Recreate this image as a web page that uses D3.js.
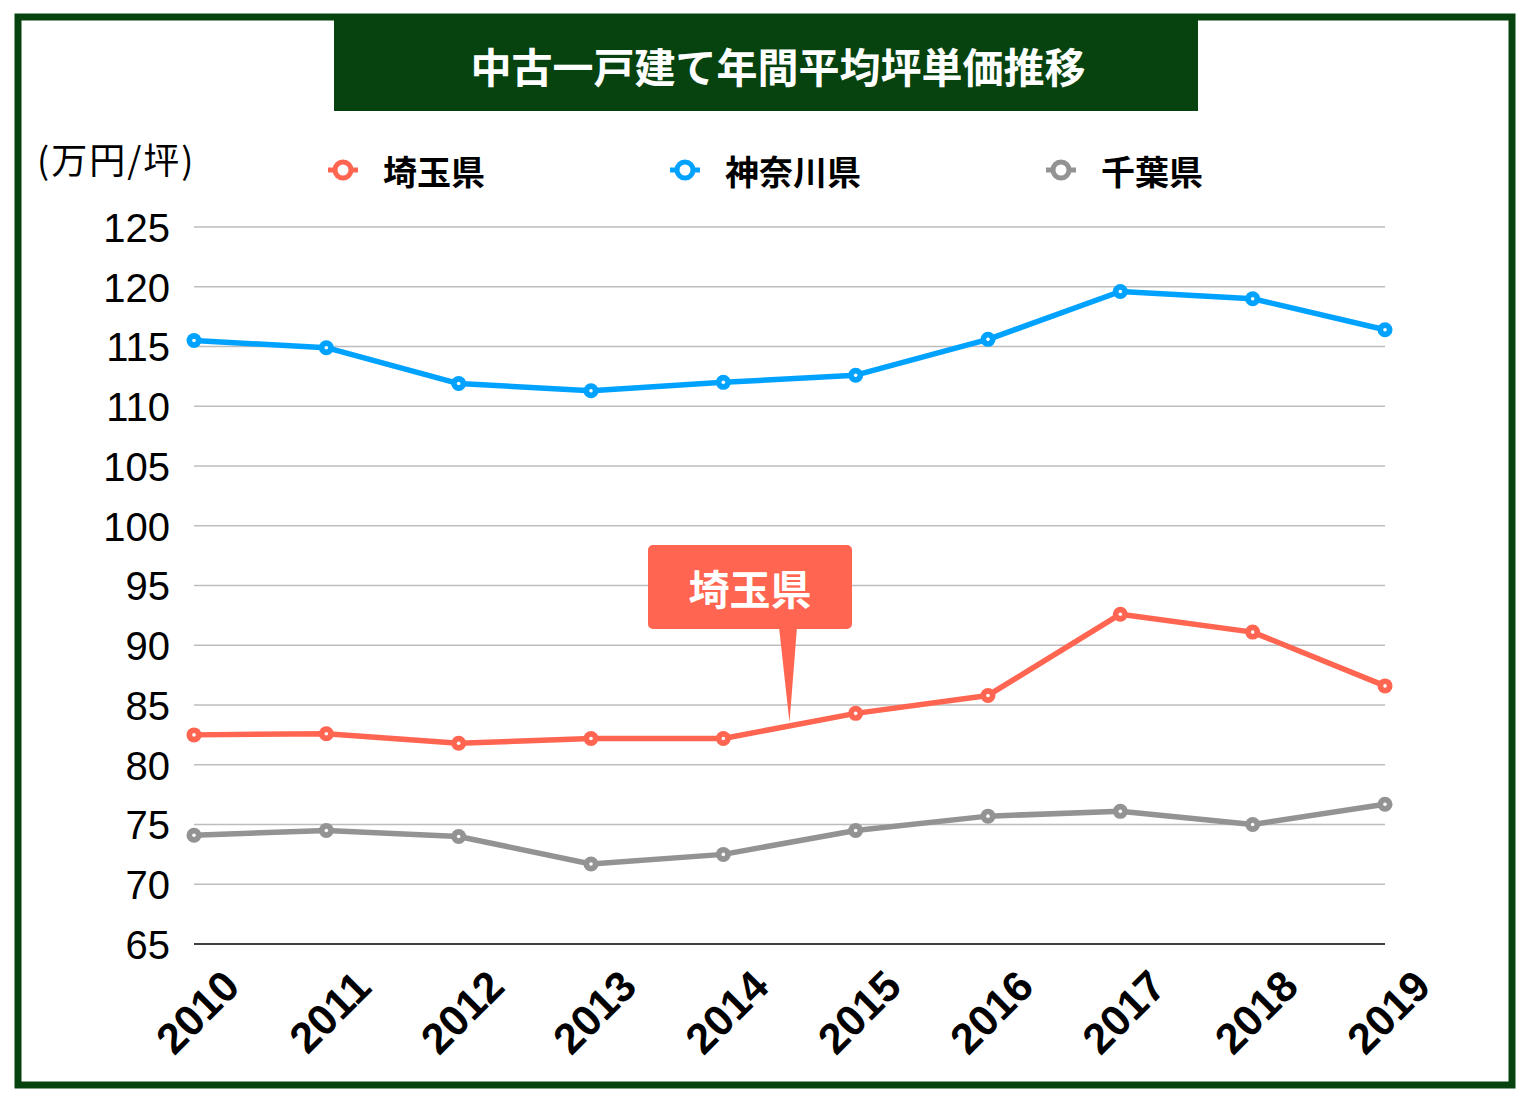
<!DOCTYPE html>
<html><head><meta charset="utf-8">
<script src="https://cdn.jsdelivr.net/npm/d3@7"></script>
<style>body{margin:0;background:#fff;}svg{display:block;}</style>
</head><body>
<script>
const years = ["2010","2011","2012","2013","2014","2015","2016","2017","2018","2019"];
const saitama = [82.5,82.6,81.8,82.2,82.2,84.3,85.8,92.6,91.1,86.6];
const kanagawa = [115.5,114.9,111.9,111.3,112.0,112.6,115.6,119.6,119.0,116.4];
const chiba = [74.1,74.5,74.0,71.7,72.5,74.5,75.7,76.1,75.0,76.7];
const seriesNames = ["埼玉県","神奈川県","千葉県"];
const yTicks = [65,70,75,80,85,90,95,100,105,110,115,120,125];
const title = "中古一戸建て年間平均坪単価推移";
const unitLabel = "(万円/坪)";
const calloutLabel = "埼玉県";

const W=1531,H=1098;
const colors=["#ff6550","#00a2ff","#939393"];
const green="#07430f";
const jp="'Noto Sans CJK JP','Noto Sans',sans-serif";
const num="'Liberation Sans',Arial,sans-serif";

const svg=d3.select("body").append("svg").attr("width",W).attr("height",H);
svg.append("rect").attr("width",W).attr("height",H).attr("fill","#fff");
// border
svg.append("rect").attr("x",18).attr("y",17).attr("width",1494).attr("height",1068)
  .attr("fill","none").attr("stroke",green).attr("stroke-width",7);
// title box
svg.append("rect").attr("x",334).attr("y",20).attr("width",864).attr("height",91).attr("fill",green);
svg.append("text").attr("x",778).attr("y",65).attr("text-anchor","middle").attr("dominant-baseline","central")
  .attr("font-family",jp).attr("font-weight","bold").attr("font-size",41).attr("fill","#fff").text(title);

const x=d3.scalePoint().domain(years).range([194,1385]);
const y=d3.scaleLinear().domain([65,125]).range([944,227]);

// grid
const g=svg.append("g");
g.selectAll("line.grid").data(yTicks.filter(t=>t>65)).join("line")
  .attr("x1",194).attr("x2",1385).attr("y1",d=>y(d)).attr("y2",d=>y(d))
  .attr("stroke","#bdbdbd").attr("stroke-width",1.3);
g.append("line").attr("x1",194).attr("x2",1385).attr("y1",y(65)).attr("y2",y(65)).attr("stroke","#000").attr("stroke-width",1.3);

// y axis labels
const yAxis=d3.axisLeft(y).tickValues(yTicks).tickSize(0).tickPadding(0);
const ya=svg.append("g").attr("transform","translate(170,0)").call(yAxis);
ya.select(".domain").remove();
ya.selectAll("text").attr("font-family",num).attr("font-size",40).attr("fill","#000").attr("dy","0.36em");

// x axis labels
const xAxis=d3.axisBottom(x).tickSize(0).tickPadding(0);
const xa=svg.append("g").attr("transform","translate(0,944)").call(xAxis);
xa.select(".domain").remove();
xa.selectAll("text").attr("font-family",num).attr("font-size",43).attr("font-weight","bold").attr("fill","#000")
  .attr("text-anchor","middle").attr("dy",null).attr("y",0)
  .attr("transform","translate(3,68) rotate(-45)").attr("dominant-baseline","central");

// unit label
svg.append("text").attr("x",37).attr("y",158).attr("dominant-baseline","central")
  .attr("font-family",jp).attr("font-size",36).attr("letter-spacing",2).attr("fill","#000").text(unitLabel);

// lines
const data=[saitama,kanagawa,chiba];
const line=d3.line().x((d,i)=>x(years[i])).y(d=>y(d));
data.forEach((s,k)=>{
  svg.append("path").datum(s).attr("d",line).attr("fill","none").attr("stroke",colors[k])
    .attr("stroke-width",5.5).attr("stroke-linejoin","round");
  svg.selectAll(null).data(s).join("circle").attr("cx",(d,i)=>x(years[i])).attr("cy",d=>y(d))
    .attr("r",7.5).attr("fill",colors[k]);
  svg.selectAll(null).data(s).join("circle").attr("cx",(d,i)=>x(years[i])).attr("cy",d=>y(d))
    .attr("r",1.8).attr("fill","#fff");
});

// legend
const legX=[343,685,1061];
seriesNames.forEach((n,k)=>{
  const lg=svg.append("g").attr("transform",`translate(${legX[k]},170)`);
  lg.append("line").attr("x1",-15).attr("x2",15).attr("stroke",colors[k]).attr("stroke-width",5);
  lg.append("circle").attr("r",8).attr("fill","#fff").attr("stroke",colors[k]).attr("stroke-width",5);
  lg.append("text").attr("x",40).attr("dominant-baseline","central").attr("font-family",jp)
    .attr("font-weight","bold").attr("font-size",34).attr("fill","#000").text(n);
});

// callout
const tipX=x("2014")+(x("2015")-x("2014"))*0.5, tipY=y(83.2)-4;
svg.append("rect").attr("x",648).attr("y",545).attr("width",204).attr("height",84).attr("rx",5).attr("fill",colors[0]);
svg.append("path").attr("d",`M779,627 L797,627 L${tipX},${tipY} Z`).attr("fill",colors[0]);
svg.append("text").attr("x",750).attr("y",587).attr("text-anchor","middle").attr("dominant-baseline","central")
  .attr("font-family",jp).attr("font-weight","bold").attr("font-size",41).attr("fill","#fff").text(calloutLabel);
</script>
</body></html>
